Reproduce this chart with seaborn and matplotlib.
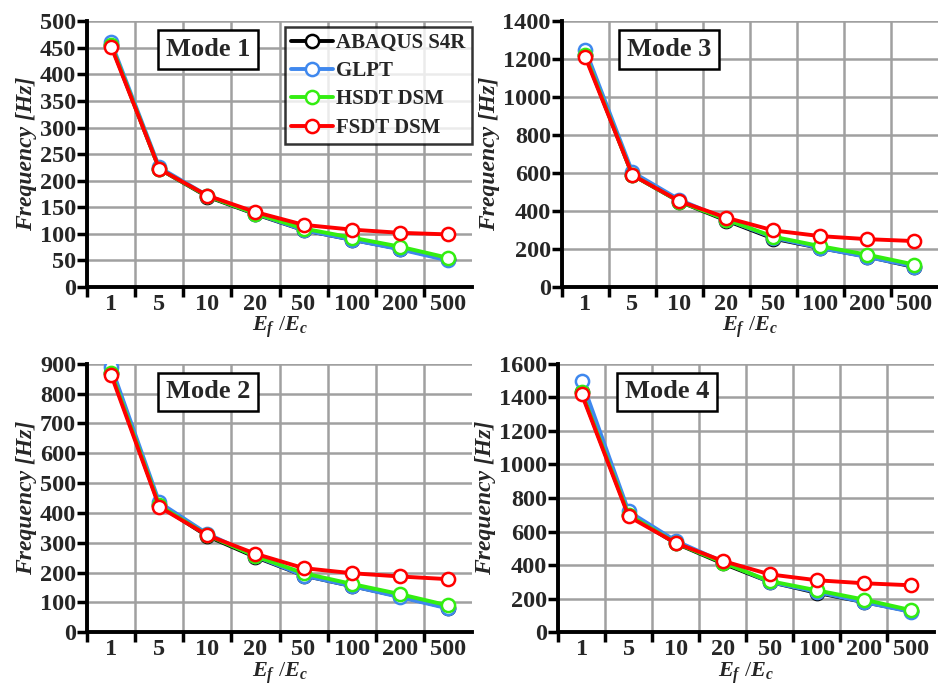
import pandas as pd
import matplotlib
matplotlib.use('Agg')
import matplotlib.pyplot as plt
import seaborn as sns

# E_f / E_c ratios (categorical axis)
ratios = ['1', '5', '10', '20', '50', '100', '200', '500']
methods = ['ABAQUS S4R', 'GLPT', 'HSDT DSM', 'FSDT DSM']
colors = ['#000000', '#3f88ee', '#33ee11', '#ff0000']

# frequencies [Hz]
mode1_abaqus = [455, 222, 170, 137, 107, 89, 72, 52]
mode1_glpt = [460, 225, 172, 138, 107, 89, 71, 50]
mode1_hsdt = [455, 222, 171, 138, 110, 93, 76, 55]
mode1_fsdt = [452, 222, 172, 141, 117, 108, 102, 99]

mode2_abaqus = [870, 425, 322, 252, 190, 155, 120, 82]
mode2_glpt = [890, 435, 330, 255, 190, 155, 118, 80]
mode2_hsdt = [870, 425, 325, 255, 198, 162, 128, 90]
mode2_fsdt = [862, 420, 325, 263, 215, 198, 187, 178]

mode3_abaqus = [1220, 590, 450, 350, 255, 205, 160, 105]
mode3_glpt = [1250, 605, 460, 355, 260, 205, 158, 108]
mode3_hsdt = [1220, 590, 450, 355, 265, 215, 170, 118]
mode3_fsdt = [1210, 590, 452, 365, 298, 268, 252, 242]

mode4_abaqus = [1430, 700, 530, 410, 300, 235, 180, 125]
mode4_glpt = [1500, 720, 545, 420, 300, 240, 180, 122]
mode4_hsdt = [1430, 700, 532, 415, 305, 250, 195, 132]
mode4_fsdt = [1420, 690, 532, 425, 345, 310, 292, 280]

modes = {
    'Mode 1': [mode1_abaqus, mode1_glpt, mode1_hsdt, mode1_fsdt],
    'Mode 2': [mode2_abaqus, mode2_glpt, mode2_hsdt, mode2_fsdt],
    'Mode 3': [mode3_abaqus, mode3_glpt, mode3_hsdt, mode3_fsdt],
    'Mode 4': [mode4_abaqus, mode4_glpt, mode4_hsdt, mode4_fsdt],
}
ylims = {'Mode 1': (500, 50), 'Mode 2': (900, 100),
         'Mode 3': (1400, 200), 'Mode 4': (1600, 200)}

sns.set_style('white')
plt.rcParams['font.family'] = ['Liberation Serif', 'DejaVu Serif']
plt.rcParams['font.weight'] = 'bold'
plt.rcParams['mathtext.fontset'] = 'custom'
plt.rcParams['mathtext.it'] = 'Liberation Serif:italic:bold'
plt.rcParams['mathtext.rm'] = 'Liberation Serif:bold'

fig = plt.figure(figsize=(9.38, 6.85), dpi=100)
positions = {
    'Mode 1': [0.093, 0.581, 0.41, 0.388],
    'Mode 3': [0.599, 0.581, 0.401, 0.388],
    'Mode 2': [0.093, 0.077, 0.41, 0.392],
    'Mode 4': [0.595, 0.077, 0.401, 0.392],
}
label_x = {'Mode 1': 0.314, 'Mode 2': 0.314, 'Mode 3': 0.285, 'Mode 4': 0.29}

for mode, series in modes.items():
    ax = fig.add_axes(positions[mode])
    rows = []
    for m, vals in zip(methods, series):
        for r, v in zip(ratios, vals):
            rows.append({'ratio': r, 'freq': v, 'method': m})
    df = pd.DataFrame(rows)
    sns.lineplot(data=df, x='ratio', y='freq', hue='method', hue_order=methods,
                 palette=colors, sort=False, marker='o', markersize=9.5,
                 markerfacecolor='white', markeredgewidth=1.8, linewidth=2.8,
                 ax=ax, legend=(mode == 'Mode 1'))
    # markers take the line colour on the edge
    for line, c in zip(ax.lines, colors):
        line.set_markeredgecolor(c)

    top, step = ylims[mode]
    ax.set_ylim(0, top)
    ax.set_yticks(range(0, top + 1, step))
    ax.set_xlim(-0.5, 7.5)
    ax.set_xticks(range(len(ratios)))
    ax.set_xticklabels(ratios)
    ax.set_xticks([i - 0.5 for i in range(len(ratios))], minor=True)
    ax.tick_params(axis='x', which='major', length=0, labelsize=17.5, pad=5)
    ax.tick_params(axis='x', which='minor', length=7, width=2.5, direction='out',
                   bottom=True, color='black')
    ax.tick_params(axis='y', which='major', length=7, width=2.5, direction='out',
                   left=True, labelsize=17.5, pad=1, color='black')
    ax.grid(False)
    ax.grid(True, axis='y', which='major', color='#a0a0a0', linewidth=1.8)
    ax.grid(True, axis='x', which='minor', color='#a0a0a0', linewidth=1.8)
    ax.set_axisbelow(True)
    for s in ['top', 'right']:
        ax.spines[s].set_visible(False)
    for s in ['left', 'bottom']:
        ax.spines[s].set_color('black')
        ax.spines[s].set_linewidth(2.8)
    for lab in ax.get_xticklabels() + ax.get_yticklabels():
        lab.set_fontweight('bold')

    ax.set_ylabel('Frequency [Hz]', fontsize=17, fontweight='bold',
                  fontstyle='italic', labelpad=2)
    ax.set_xlabel(r'$E_f$ /$E_c$', fontsize=16, labelpad=0)

    ax.text(label_x[mode], 0.895, mode, transform=ax.transAxes, ha='center',
            va='center', fontsize=19, fontweight='bold',
            bbox=dict(boxstyle='square,pad=0.3', facecolor='white',
                      edgecolor='black', linewidth=1.8))

    if mode == 'Mode 1':
        leg = ax.legend(loc='upper right', bbox_to_anchor=(1.0, 0.98),
                        fontsize=15, frameon=True, fancybox=False,
                        handlelength=2.0, handletextpad=0.15, borderpad=0.3,
                        labelspacing=0.4, borderaxespad=0.0)
        leg.get_frame().set_edgecolor('black')
        leg.get_frame().set_linewidth(1.8)
        for h, c in zip(leg.legend_handles, colors):
            h.set_markerfacecolor('white')
            h.set_markeredgecolor(c)
        for t in leg.get_texts():
            t.set_fontweight('bold')

fig.savefig('out.png', dpi=100)
